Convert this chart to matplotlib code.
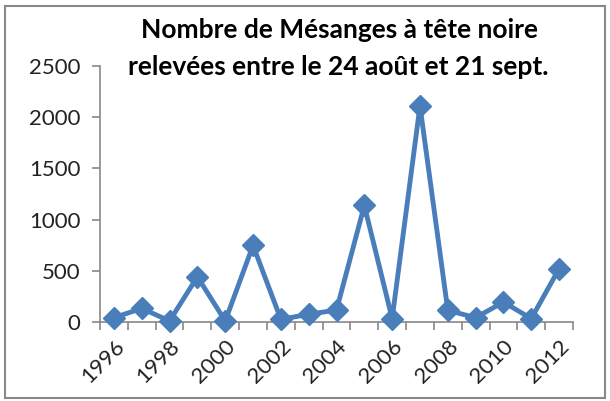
import matplotlib.pyplot as plt
from matplotlib.patches import Rectangle

# Data
years = list(range(1996, 2013))
counts = [42, 133, 10, 442, 10, 748, 26, 75, 117, 1138, 33, 2110, 114, 42, 195, 33, 520]
yticks = [0, 500, 1000, 1500, 2000, 2500]

plt.rcParams['font.family'] = ['Lato', 'DejaVu Sans']

fig = plt.figure(figsize=(6.10, 4.01), dpi=100)
ax = fig.add_axes([100 / 610, 1 - 322 / 401, 473 / 610, 256 / 401])

x = list(range(len(years)))
ax.plot(x, counts, color='#4A7EBB', linewidth=3.5, marker='D', markersize=11,
        markerfacecolor='#4A7EBB', markeredgecolor='#4A7EBB', clip_on=False, zorder=3)

ax.set_xlim(-0.5, len(years) - 0.5)
ax.set_ylim(0, 2500)
ax.set_yticks(yticks)
ax.set_yticklabels([str(v) for v in yticks], fontsize=16, color='#222222')

# ticks between categories, labels every other year
ax.set_xticks([i - 0.5 for i in range(len(years) + 1)])
ax.set_xticklabels([])
ax.set_xticks(x[::2], minor=True)
ax.set_xticklabels([str(y) for y in years[::2]], minor=True, rotation=45,
                   ha='right', va='top', rotation_mode='anchor', fontsize=16, color='#222222')
ax.tick_params(axis='x', which='minor', length=0, pad=10)
ax.tick_params(axis='x', which='major', direction='out', length=6, color='#888888', width=1.2)
ax.tick_params(axis='y', direction='out', length=6, color='#888888', width=1.2, pad=8)

for side in ['top', 'right']:
    ax.spines[side].set_visible(False)
for side in ['left', 'bottom']:
    ax.spines[side].set_color('#888888')
    ax.spines[side].set_linewidth(1.2)

fig.text(340 / 610, 1 - 30 / 401, 'Nombre de Mésanges à tête noire', ha='center', va='center',
         fontsize=19, fontweight='bold')
fig.text(338 / 610, 1 - 67 / 401, 'relevées entre le 24 août et 21 sept.', ha='center', va='center',
         fontsize=19, fontweight='bold')

# outer chart frame
fig.patches.append(Rectangle((5 / 610, 3 / 401), 600 / 610, 392 / 401, transform=fig.transFigure,
                             fill=False, edgecolor='#888888', linewidth=1.5))

fig.savefig('out.png', dpi=100)
